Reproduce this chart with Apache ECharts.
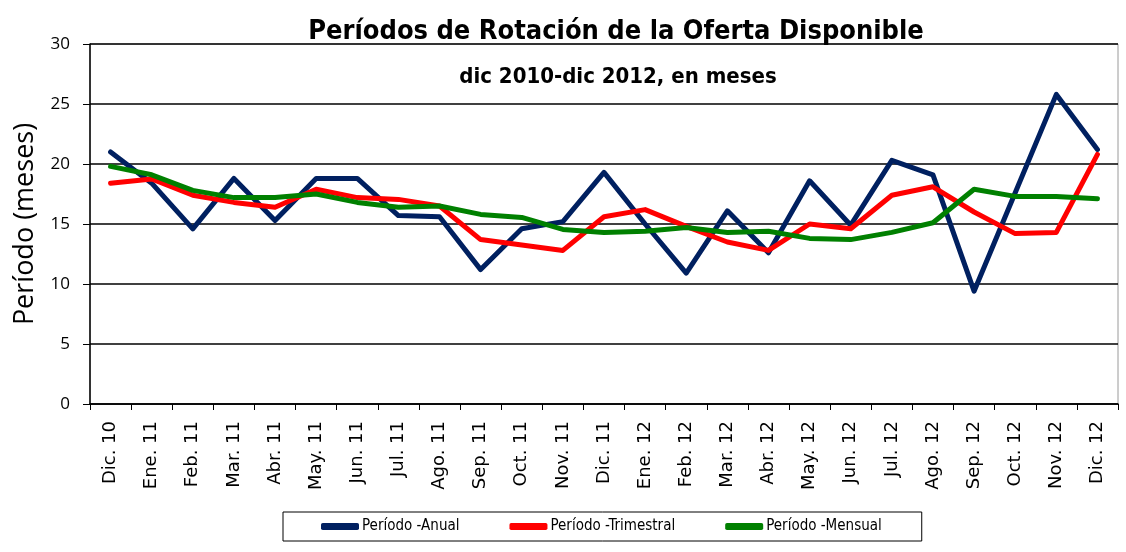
<!DOCTYPE html>
<html>
<head>
<meta charset="utf-8">
<script src="https://cdn.jsdelivr.net/npm/echarts@6/dist/echarts.min.js"></script>
<style>
  html, body { margin: 0; padding: 0; background: #ffffff; }
  #chart { width: 1126px; height: 552px; }
</style>
</head>
<body>
<div id="chart"></div>
<script>
const months = ['Dic. 10', 'Ene. 11', 'Feb. 11', 'Mar. 11', 'Abr. 11', 'May. 11', 'Jun. 11', 'Jul. 11', 'Ago. 11', 'Sep. 11', 'Oct. 11', 'Nov. 11', 'Dic. 11',
  'Ene. 12', 'Feb. 12', 'Mar. 12', 'Abr. 12', 'May. 12', 'Jun. 12', 'Jul. 12', 'Ago. 12', 'Sep. 12', 'Oct. 12', 'Nov. 12', 'Dic. 12']

const anual = [21.0, 18.4, 14.6, 18.8, 15.3, 18.8, 18.8, 15.7, 15.6, 11.2, 14.6, 15.2, 19.3,
  15.0, 10.9, 16.1, 12.6, 18.6, 14.9, 20.3, 19.1, 9.4, 17.6, 25.8, 21.2]
const trimestral = [18.4, 18.75, 17.4, 16.8, 16.4, 17.9, 17.2, 17.05, 16.5, 13.7, 13.25, 12.8, 15.6,
  16.2, 14.8, 13.5, 12.8, 15.0, 14.6, 17.4, 18.1, 16.0, 14.2, 14.3, 20.8]
const mensual = [19.8, 19.1, 17.8, 17.2, 17.2, 17.5, 16.8, 16.4, 16.5, 15.8, 15.55, 14.55, 14.3,
  14.4, 14.7, 14.3, 14.4, 13.8, 13.7, 14.3, 15.1, 17.9, 17.3, 17.3, 17.1]

const narrow = '"Liberation Sans Narrow", "DejaVu Sans Condensed", sans-serif'

const chart = echarts.init(document.getElementById('chart'))

const line = (name, data, color) => ({
  name,
  type: 'line',
  data,
  symbol: 'none',
  lineStyle: { color, width: 5, cap: 'round', join: 'round' },
  itemStyle: { color },
  animation: false,
})

chart.setOption({
  backgroundColor: '#ffffff',
  title: [
    {
      text: 'Períodos de Rotación de la Oferta Disponible',
      left: 611,
      top: 13,
      textAlign: 'center',
      textStyle: { fontFamily: narrow, fontSize: 27, fontWeight: 'bold', color: '#000' },
    },
    {
      text: 'dic 2010-dic 2012, en meses',
      left: 613,
      top: 61,
      textAlign: 'center',
      textStyle: { fontFamily: narrow, fontSize: 22, fontWeight: 'bold', color: '#000' },
    },
  ],
  legend: {
    left: 283,
    top: 512,
    padding: [7, 40, 7, 38],
    itemGap: 50,
    itemWidth: 38,
    itemHeight: 7,
    icon: 'roundRect',
    borderColor: '#000',
    borderWidth: 1,
    textStyle: { fontFamily: narrow, fontSize: 15, color: '#000', padding: [0, 0, 0, -2] },
    data: ['Período -Anual', 'Período -Trimestral', 'Período -Mensual'],
  },
  grid: {
    left: 90,
    right: 8,
    top: 44,
    bottom: 148,
    outerBoundsMode: 'none',
    containLabel: false,
    show: true,
    borderColor: '#9a9a9a',
    borderWidth: 1,
  },
  xAxis: {
    type: 'category',
    data: months,
    boundaryGap: true,
    axisLine: { lineStyle: { color: '#000', width: 1.5 } },
    axisTick: { show: true, interval: 0, length: 6, lineStyle: { color: '#000' } },
    axisLabel: {
      interval: 0,
      rotate: 90,
      margin: 17,
      color: '#000',
      fontFamily: '"DejaVu Sans", sans-serif',
      fontSize: 18,
    },
  },
  yAxis: {
    type: 'value',
    min: 0,
    max: 30,
    interval: 5,
    name: 'Período (meses)',
    nameLocation: 'middle',
    nameGap: 51,
    nameTextStyle: { fontFamily: '"Open Sans", sans-serif', fontSize: 27, color: '#000' },
    axisLine: { show: true, lineStyle: { color: '#000', width: 1.5 } },
    axisTick: { show: true, length: 7, lineStyle: { color: '#000' } },
    axisLabel: { color: '#000', fontFamily: '"Open Sans", sans-serif', fontSize: 17, margin: 20 },
    splitLine: { lineStyle: { color: '#000', width: 1.5 } },
  },
  series: [
    line('Período -Anual', anual, '#002060'),
    line('Período -Trimestral', trimestral, '#ff0000'),
    line('Período -Mensual', mensual, '#008000'),
  ],
})
</script>
</body>
</html>
